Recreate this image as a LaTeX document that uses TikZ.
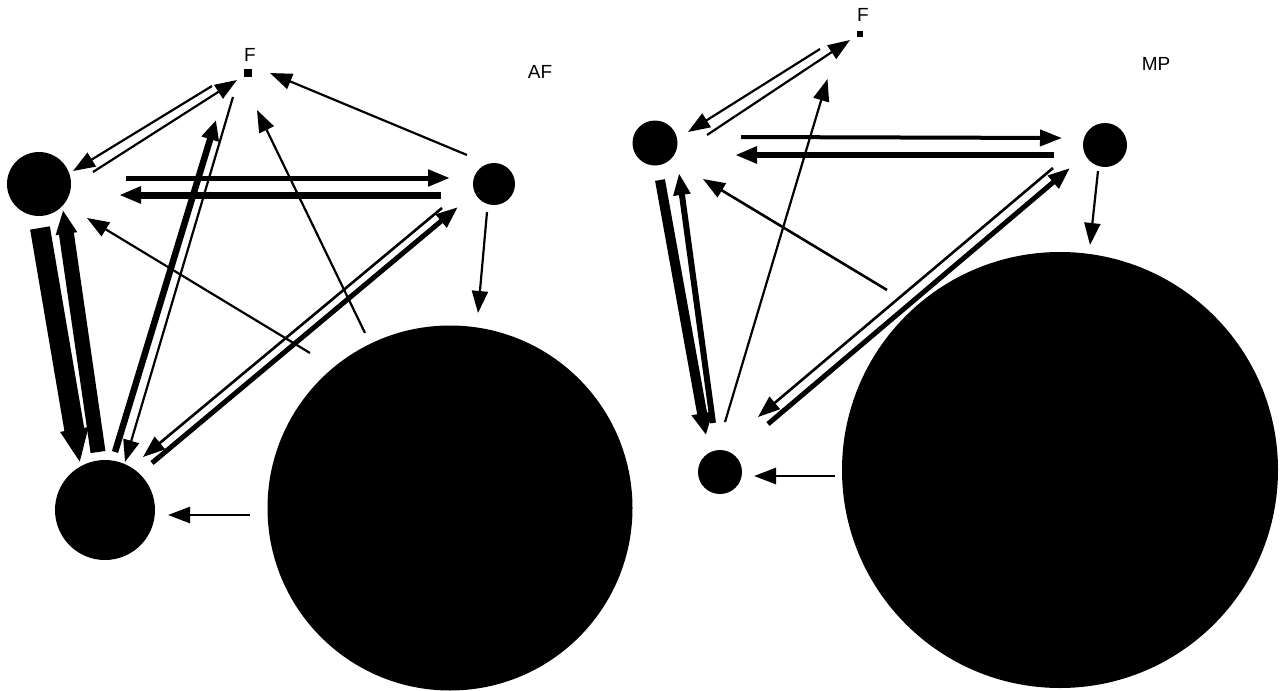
\documentclass[tikz,border=0pt]{standalone}
\usepackage{fontspec}
\setmainfont{Liberation Sans}
\usetikzlibrary{arrows.meta,calc}

\begin{document}
\begin{tikzpicture}[x=1pt,y=-1pt,>={Triangle[length=22pt,width=16pt]},
  dot/.style={circle,fill,inner sep=0pt},
  sq/.style={fill,inner sep=0pt},
  tag/.style={font=\fontsize{19}{22}\selectfont},
  link/.style={->,line width=2.2pt}]
  \useasboundingbox (0,0) rectangle (1283,691);
  \fill[white] (0,0) rectangle (1283,691);

  % AF
  \node[sq,minimum size=8pt] (afF) at (247.5,72.5) {};
  \node[tag] (afFname) at (250,55) {F};
  \node[tag] (afTitle) at (540,72) {AF};
  \node[dot,minimum size=64pt] (afA) at (39,184) {};
  \node[dot,minimum size=42pt] (afB) at (494,184) {};
  \node[dot,minimum size=100pt] (afC) at (105,510) {};
  \node[dot,minimum size=365pt] (afD) at (450,508) {};

  \draw[link] ($(afA)+(54,-12)$) -- ($(afF)+(-10.5,7.5)$);
  \draw[link] ($(afF)+(-35.5,13.5)$) -- ($(afA)+(34,-13)$);
  \draw[link,line width=5pt] ($(afA)+(87,-6)$) -- ($(afB)+(-44,-6)$);
  \draw[link,line width=7pt] ($(afB)+(-53,11)$) -- ($(afA)+(80,11)$);
  \draw[line width=20pt,-{Triangle[length=34pt,width=26pt]}] ($(afA)+(1,44)$) -- ($(afC)+(-25,-47)$);
  \draw[line width=15pt,-{Triangle[length=24pt,width=20pt]}] ($(afC)+(-7,-58)$) -- ($(afA)+(24,26)$);
  \draw[line width=6.5pt,-{Triangle[length=20pt,width=17pt]}] ($(afC)+(10,-58)$) -- ($(afF)+(-31.5,47.5)$);
  \draw[link] ($(afF)+(-14.5,24.5)$) -- ($(afC)+(20,-48)$);
  \draw[link,line width=2.6pt] ($(afB)+(-52,24)$) -- ($(afC)+(38,-53)$);
  \draw[link,line width=5pt] ($(afC)+(47,-47)$) -- ($(afB)+(-36,23)$);
  \draw[link] ($(afB)+(-27,-29)$) -- ($(afF)+(22.5,0.5)$);
  \draw[link] ($(afB)+(-7,28)$) -- ($(afD)+(28,-195)$);
  \draw[link] ($(afD)+(-85,-175)$) -- ($(afF)+(9.5,37.5)$);
  \draw[link] ($(afD)+(-140,-155)$) -- ($(afA)+(48,34)$);
  \draw[link,line width=2.6pt] ($(afD)+(-200,7)$) -- ($(afC)+(63,5)$);

  % MP
  \node[sq,minimum size=6pt] (mpF) at (859.5,33.5) {};
  \node[tag] (mpFname) at (863,15) {F};
  \node[tag] (mpTitle) at (1156,64) {MP};
  \node[dot,minimum size=45pt] (mpA) at (655,143) {};
  \node[dot,minimum size=44pt] (mpB) at (1105,145) {};
  \node[dot,minimum size=44pt] (mpC) at (720,472) {};
  \node[dot,minimum size=436pt] (mpD) at (1060,470) {};

  \draw[link] ($(mpA)+(52,-8)$) -- ($(mpF)+(-9.5,6.5)$);
  \draw[link] ($(mpF)+(-39.5,15.5)$) -- ($(mpA)+(33,-11)$);
  \draw[link,line width=4pt] ($(mpA)+(86,-6)$) -- ($(mpB)+(-43,-7)$);
  \draw[link,line width=6.5pt] ($(mpB)+(-51,10)$) -- ($(mpA)+(80,12)$);
  \draw[line width=10pt,-{Triangle[length=22pt,width=20pt]}] ($(mpA)+(5,37)$) -- ($(mpC)+(-14,-37)$);
  \draw[link,line width=6pt] ($(mpC)+(-7,-49)$) -- ($(mpA)+(24,30)$);
  \draw[link] ($(mpC)+(5,-50)$) -- ($(mpF)+(-32,45.5)$);
  \draw[link,line width=2.6pt] ($(mpB)+(-52,23)$) -- ($(mpC)+(38,-55)$);
  \draw[link,line width=5pt] ($(mpC)+(48,-48)$) -- ($(mpB)+(-35,23)$);
  \draw[link,line width=2.6pt] ($(mpD)+(-173,-180)$) -- ($(mpA)+(48,36)$);
  \draw[link] ($(mpB)+(-7,26)$) -- ($(mpD)+(30,-225)$);
  \draw[link,line width=2.6pt] ($(mpD)+(-225,6)$) -- ($(mpC)+(34,4)$);
\end{tikzpicture}
\end{document}
